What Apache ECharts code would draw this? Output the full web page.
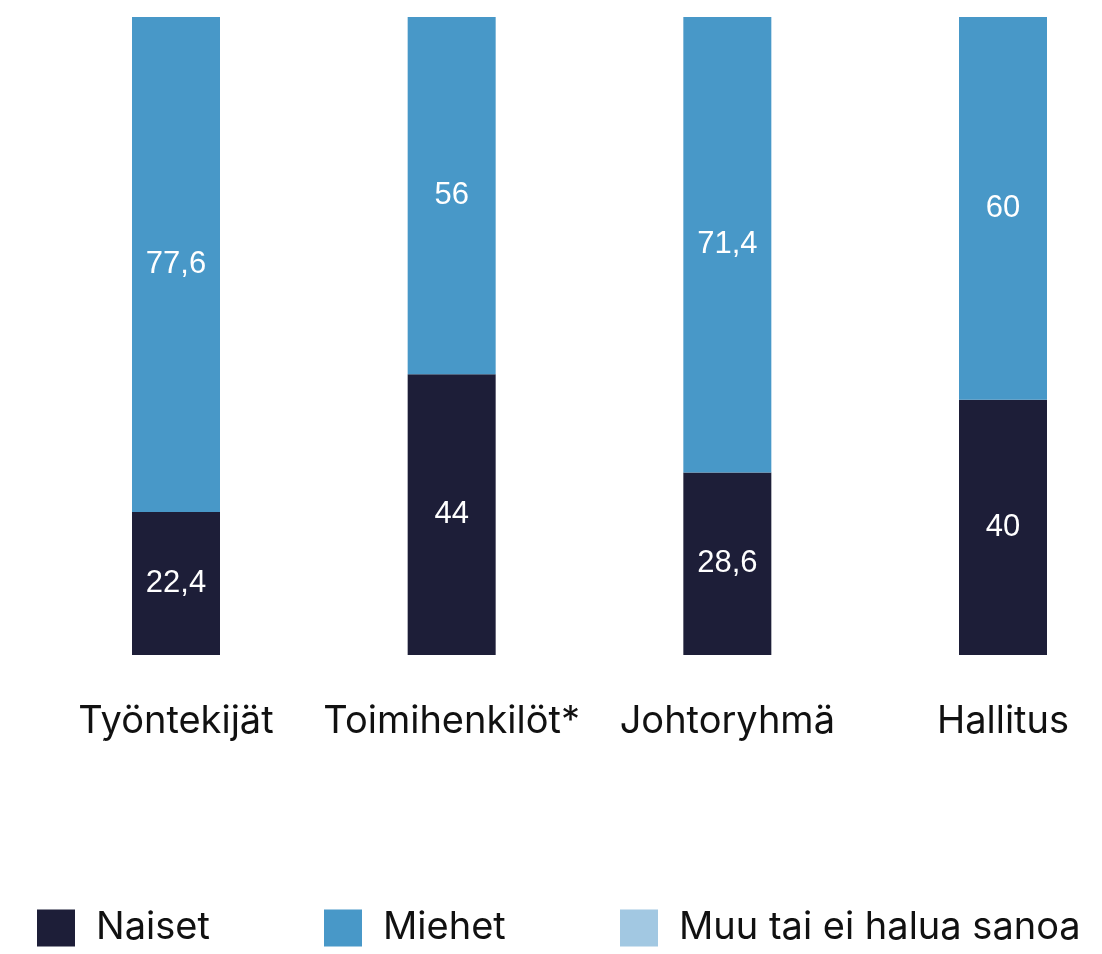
<!DOCTYPE html>
<html>
<head>
<meta charset="utf-8">
<script src="https://cdn.jsdelivr.net/npm/echarts@6/dist/echarts.min.js"></script>
<style>
  html, body { margin: 0; padding: 0; background: #fff; }
  #chart { width: 1102px; height: 954px; }
</style>
</head>
<body>
<div id="chart"></div>
<script>
// categories and series values (per cent)
const categories = ['Työntekijät', 'Toimihenkilöt*', 'Johtoryhmä', 'Hallitus']
const naiset = [22.4, 44, 28.6, 40]
const miehet = [77.6, 56, 71.4, 60]
const muu = [0, 0, 0, 0]

const seriesNames = ['Naiset', 'Miehet', 'Muu tai ei halua sanoa']
const colors = ['#1d1e38', '#4898c8', '#a2c8e2']

const textFont = 'Inter, "Noto Sans", sans-serif'

const chart = echarts.init(document.getElementById('chart'))

// näytetään vain nollasta poikkeavat arvot
const fmt = p => (p.value ? String(p.value).replace('.', ',') : '')

function bar(name, data, color) {
  return {
    name,
    type: 'bar',
    stack: 'total',
    data,
    barWidth: 88,
    itemStyle: { color },
    label: {
      show: true,
      position: 'inside',
      formatter: fmt,
      color: '#fff',
      fontSize: 31,
      fontFamily: '"Liberation Sans", Arial, sans-serif',
    },
  }
}

const legendBase = {
  bottom: 7,
  padding: 0,
  itemWidth: 38,
  itemHeight: 37,
  icon: 'rect',
  textStyle: { fontSize: 38, fontFamily: textFont, color: '#111', padding: [0, 0, 0, 16] },
}

chart.setOption({
  animation: false,
  // boundaryGap false: pylväät kategorioiden kohdalla, reunoilta reunoille
  grid: { left: 176, right: 99, top: 17, bottom: 299 },
  xAxis: {
    type: 'category',
    data: categories,
    boundaryGap: false,
    axisLine: { show: false },
    axisTick: { show: false },
    axisLabel: {
      margin: 48,
      fontSize: 38,
      fontFamily: textFont,
      color: '#111',
      interval: 0,
    },
  },
  yAxis: {
    type: 'value',
    min: 0,
    max: 100,
    show: false,
  },
  legend: [
    { ...legendBase, left: 37, data: [seriesNames[0]] },
    { ...legendBase, left: 324, data: [seriesNames[1]] },
    { ...legendBase, left: 620, data: [seriesNames[2]] },
  ],
  series: [
    bar(seriesNames[0], naiset, colors[0]),
    bar(seriesNames[1], miehet, colors[1]),
    bar(seriesNames[2], muu, colors[2]),
  ],
})
</script>
</body>
</html>
